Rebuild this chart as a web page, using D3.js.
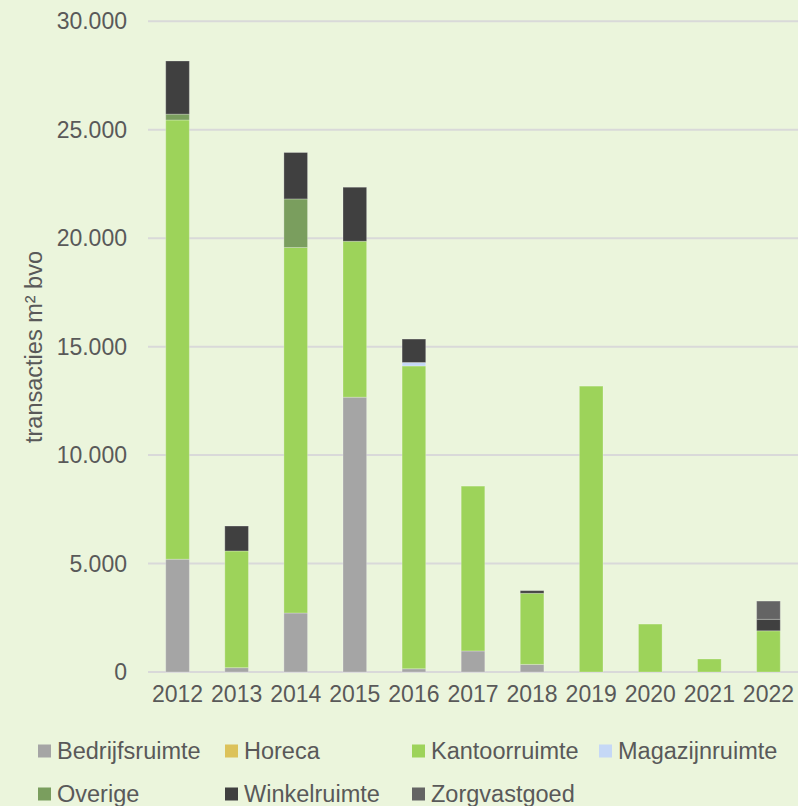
<!DOCTYPE html>
<html>
<head>
<meta charset="utf-8">
<script src="https://cdn.jsdelivr.net/npm/d3@7"></script>
<style>
  html, body { margin: 0; padding: 0; background: #ebf5dc; }
  svg { display: block; }
  text { font-family: "Liberation Sans", Arial, sans-serif; fill: #595959; }
</style>
</head>
<body>
<svg id="chart" width="798" height="806"></svg>
<script>
const years = ["2012","2013","2014","2015","2016","2017","2018","2019","2020","2021","2022"];
const seriesNames = ["Bedrijfsruimte","Horeca","Kantoorruimte","Magazijnruimte","Overige","Winkelruimte","Zorgvastgoed"];
const bedrijfsruimte = [5200, 200, 2720, 12670, 150, 970, 350, 0, 0, 0, 0];
const horeca         = [0, 0, 0, 0, 0, 0, 0, 0, 0, 0, 0];
const kantoorruimte  = [20250, 5380, 16850, 7190, 13960, 7600, 3280, 13180, 2210, 600, 1900];
const magazijnruimte = [0, 0, 0, 0, 160, 0, 0, 0, 0, 0, 0];
const overige        = [270, 0, 2240, 0, 0, 0, 0, 0, 0, 0, 0];
const winkelruimte   = [2450, 1150, 2140, 2490, 1080, 0, 120, 0, 0, 0, 530];
const zorgvastgoed   = [0, 0, 0, 0, 0, 0, 0, 0, 0, 0, 840];
const yTicks = [0, 5000, 10000, 15000, 20000, 25000, 30000];

const colors = ["#a5a5a5", "#dcc25a", "#9dd35a", "#c5d8f6", "#7a9e5e", "#404040", "#646464"];

const values = [bedrijfsruimte, horeca, kantoorruimte, magazijnruimte, overige, winkelruimte, zorgvastgoed];
const rows = years.map((y, i) => {
  const r = { year: y };
  seriesNames.forEach((s, k) => r[s] = values[k][i]);
  return r;
});

const svg = d3.select('#chart');
const plotLeft = 148, plotRight = 798, plotTop = 21.3, plotBottom = 672;

const x = d3.scaleBand().domain(years).range([plotLeft, plotRight]).paddingInner(0.6).paddingOuter(0.3);
const y = d3.scaleLinear().domain([0, 30000]).range([plotBottom, plotTop]);

const nl = d3.formatLocale({ decimal: ",", thousands: ".", grouping: [3], currency: ["€", ""] });
const fmt = nl.format(",");

// gridlines
svg.append('g')
  .selectAll('line')
  .data(yTicks).enter()
  .append('line')
  .attr('x1', plotLeft).attr('x2', plotRight)
  .attr('y1', d => y(d)).attr('y2', d => y(d))
  .attr('stroke', "#d9d9d9")
  .attr('stroke-width', 2);

// y labels
svg.append('g')
  .selectAll('text')
  .data(yTicks).enter()
  .append('text')
  .attr('x', plotLeft - 21)
  .attr('y', d => y(d))
  .attr('dy', "0.35em")
  .attr('text-anchor', "end")
  .attr('font-size', 23)
  .text(d => fmt(d));

// stacked bars
const stack = d3.stack().keys(seriesNames)(rows);

svg.append('g')
  .selectAll('g')
  .data(stack).enter()
  .append('g')
  .attr('fill', (d, i) => colors[i])
  .selectAll('rect')
  .data(d => d.filter(p => p[1] - p[0] > 0)).enter()
  .append('rect')
  .attr('x', d => x(d.data.year))
  .attr('width', x.bandwidth())
  .attr('y', d => y(d[1]))
  .attr('height', d => y(d[0]) - y(d[1]))
  .attr('stroke', "rgba(255,255,255,0.25)")
  .attr('stroke-width', 1);

// x labels
svg.append('g')
  .selectAll('text')
  .data(years).enter()
  .append('text')
  .attr('x', d => x(d) + x.bandwidth() / 2)
  .attr('y', 702)
  .attr('text-anchor', "middle")
  .attr('font-size', 23)
  .text(d => d);

// y title
svg.append('text')
  .attr('transform', "translate(42,347) rotate(-90)")
  .attr('text-anchor', "middle")
  .attr('font-size', 23.5)
  .text("transacties m² bvo");

// legend
const legend = svg.append('g')
  .selectAll('g')
  .data(seriesNames).enter()
  .append('g')
  .attr('transform', (d, i) => `translate(${38 + (i % 4) * 187},${i < 4 ? 751 : 794})`);

legend.append('rect')
  .attr('x', 0).attr('y', -6.5)
  .attr('width', 13).attr('height', 13)
  .attr('fill', (d, i) => colors[i]);

legend.append('text')
  .attr('x', 19)
  .attr('dy', "0.35em")
  .attr('font-size', 23.5)
  .text(d => d);
</script>
</body>
</html>
